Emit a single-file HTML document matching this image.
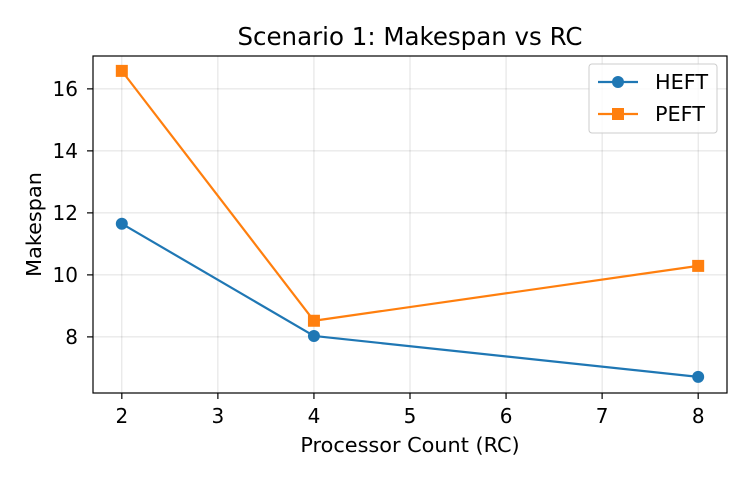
<!DOCTYPE html>
<html><head><meta charset="utf-8"><style>
body{margin:0;background:#fff;font-family:"Liberation Sans","DejaVu Sans",sans-serif}
</style></head><body>
<svg id="chart" width="750" height="480" xmlns="http://www.w3.org/2000/svg" font-family="DejaVu Sans, Liberation Sans, sans-serif"></svg>
<script>
const categories=[2,4,8];
const heftValues=[11.65,8.03,6.71];
const peftValues=[16.58,8.52,10.29];
const xTicks=[2,3,4,5,6,7,8];
const yTicks=[8,10,12,14,16];
const L=93,R=727,T=56,B=393;
const xMin=1.7,xMax=8.3,yMin=6.19,yMax=17.06;
const sx=v=>L+(v-xMin)/(xMax-xMin)*(R-L);
const sy=v=>B-(v-yMin)/(yMax-yMin)*(B-T);
const svg=document.getElementById('chart');
const NS='http://www.w3.org/2000/svg';
function mk(tag,attrs,text){const e=document.createElementNS(NS,tag);for(const k in attrs)e.setAttribute(k,attrs[k]);if(text!==undefined)e.textContent=text;svg.appendChild(e);return e;}
xTicks.forEach(t=>{const x=sx(t);
const g=mk('line',{x1:x,x2:x,y1:T,y2:B,stroke:'#000','stroke-opacity':0.12,'stroke-width':1});


mk('line',{x1:x,x2:x,y1:B,y2:B+6,stroke:'#000','stroke-width':1.2});
const lb=mk('text',{x:x,y:423,'text-anchor':'middle','font-size':20},t);

});
yTicks.forEach(t=>{const y=sy(t);
const g=mk('line',{x1:L,x2:R,y1:y,y2:y,stroke:'#000','stroke-opacity':0.12,'stroke-width':1});


mk('line',{x1:L-6,x2:L,y1:y,y2:y,stroke:'#000','stroke-width':1.2});
const lb=mk('text',{x:L-15,y:y+7,'text-anchor':'end','font-size':20},t);

});
function series(vals,color,marker,name){
const pts=categories.map((c,i)=>sx(c)+','+sy(vals[i])).join(' ');
const pl=mk('polyline',{points:pts,fill:'none',stroke:color,'stroke-width':2.2});


categories.forEach((c,i)=>{const x=sx(c),y=sy(vals[i]);let m;
if(marker==='o')m=mk('circle',{cx:x,cy:y,r:6,fill:color});
else m=mk('rect',{x:x-6,y:y-6,width:12,height:12,fill:color});

});}
series(heftValues,'#1f77b4','o','heft');
series(peftValues,'#ff7f0e','s','peft');
const frame=mk('rect',{x:L,y:T,width:R-L,height:B-T,fill:'none',stroke:'#000','stroke-width':1.2});


const title=mk('text',{x:(L+R)/2,y:45,'text-anchor':'middle','font-size':24.5},'Scenario 1: Makespan vs RC');


const xt=mk('text',{x:(L+R)/2,y:452,'text-anchor':'middle','font-size':20.8},'Processor Count (RC)');


const yt=mk('text',{x:41,y:(T+B)/2,'text-anchor':'middle','font-size':20.8,transform:'rotate(-90 41 '+(T+B)/2+')'},'Makespan');


const lg=mk('rect',{x:589,y:64,width:128,height:69,rx:3,fill:'#fff','fill-opacity':0.8,stroke:'#ccc'});


[['HEFT','#1f77b4','o',82],['PEFT','#ff7f0e','s',114]].forEach(([n,c,m,y])=>{
mk('line',{x1:598,x2:638,y1:y,y2:y,stroke:c,'stroke-width':2.2});
if(m==='o')mk('circle',{cx:618,cy:y,r:6,fill:c});else mk('rect',{x:612,y:y-6,width:12,height:12,fill:c});
const t=mk('text',{x:655,y:y+7,'font-size':20.8},n);

});
</script>
</body></html>
